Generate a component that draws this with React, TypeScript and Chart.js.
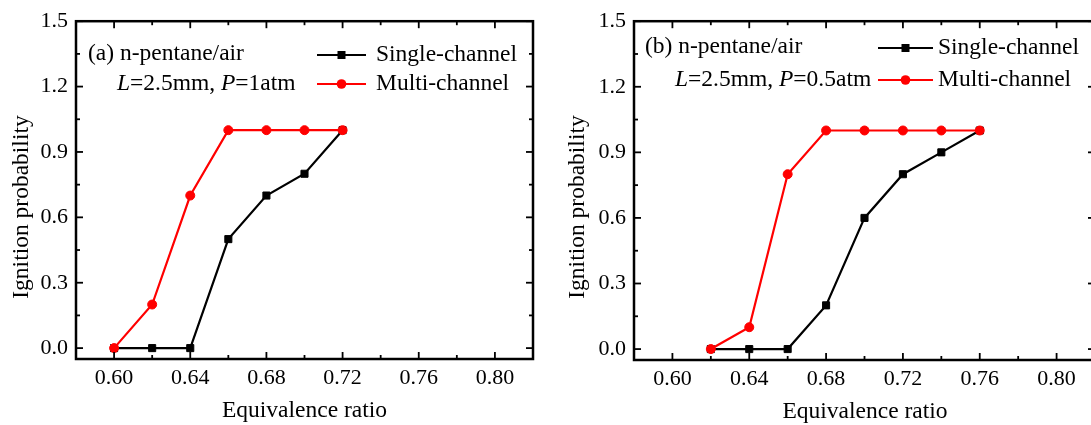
import React, { useEffect, useRef } from 'react';
import { Chart, registerables } from 'chart.js';

Chart.register(...registerables);

const FONT = "'Liberation Serif', 'Times New Roman', serif";

// ---- data ----
const seriesNames = ['Single-channel', 'Multi-channel'];

const ratioA = [0.6, 0.62, 0.64, 0.66, 0.68, 0.7, 0.72];
const singleA = [0, 0, 0, 0.5, 0.7, 0.8, 1.0];
const multiA = [0, 0.2, 0.7, 1.0, 1.0, 1.0, 1.0];

const ratioB = [0.62, 0.64, 0.66, 0.68, 0.7, 0.72, 0.74, 0.76];
const singleB = [0, 0, 0, 0.2, 0.6, 0.8, 0.9, 1.0];
const multiB = [0, 0.1, 0.8, 1.0, 1.0, 1.0, 1.0, 1.0];

const xTickValues = [0.6, 0.64, 0.68, 0.72, 0.76, 0.8];
const yTickValues = [0, 0.3, 0.6, 0.9, 1.2, 1.5];

const xTitle = 'Equivalence ratio';
const yTitle = 'Ignition probability';

const panelLabelA = '(a) n-pentane/air';
const conditionsA = [
  { t: 'L', italic: true },
  { t: '=2.5mm, ', italic: false },
  { t: 'P', italic: true },
  { t: '=1atm', italic: false },
];
const panelLabelB = '(b) n-pentane/air';
const conditionsB = [
  { t: 'L', italic: true },
  { t: '=2.5mm, ', italic: false },
  { t: 'P', italic: true },
  { t: '=0.5atm', italic: false },
];

const BLACK = '#000000';
const RED = '#ff0000';

type Part = { t: string; italic: boolean };

type Panel = {
  xs: number[];
  single: number[];
  multi: number[];
  width: number;
  height: number;
  area: { left: number; right: number; top: number; bottom: number };
  label: string;
  labelPos: [number, number];
  cond: Part[];
  condPos: [number, number];
  legend: { x1: number; x2: number; textX: number; rows: number[] };
  xTitlePos: [number, number];
  yTitlePos: [number, number];
};

function drawParts(ctx: CanvasRenderingContext2D, parts: Part[], x: number, y: number, size: number) {
  let cx = x;
  for (const p of parts) {
    ctx.font = `${p.italic ? 'italic ' : ''}${size}px ${FONT}`;
    ctx.fillText(p.t, cx, y);
    cx += ctx.measureText(p.t).width;
  }
}

function makeChart(canvas: HTMLCanvasElement, p: Panel) {
  const TEXT = 23.5;
  const decor = {
    id: 'decor',
    afterDraw(chart: any) {
      const ctx: CanvasRenderingContext2D = chart.ctx;
      const { left, right, top, bottom } = chart.chartArea;
      const xs = chart.scales.x;
      const ys = chart.scales.y;
      ctx.save();
      ctx.strokeStyle = BLACK;
      ctx.lineWidth = 2.5;
      ctx.strokeRect(left, top, right - left, bottom - top);
      ctx.lineWidth = 1.8;
      const tick = (x1: number, y1: number, x2: number, y2: number) => {
        ctx.beginPath();
        ctx.moveTo(x1, y1);
        ctx.lineTo(x2, y2);
        ctx.stroke();
      };
      const MAJ = 7;
      const MIN = 4;
      xTickValues.forEach((v, i) => {
        const px = xs.getPixelForValue(v);
        tick(px, bottom, px, bottom - MAJ);
        tick(px, top, px, top + MAJ);
        const mv = i < xTickValues.length - 1 ? (v + xTickValues[i + 1]) / 2 : v + (v - xTickValues[i - 1]) / 2;
        if (mv < xs.max - 1e-9) {
          const mp = xs.getPixelForValue(mv);
          tick(mp, bottom, mp, bottom - MIN);
          tick(mp, top, mp, top + MIN);
        }
      });
      yTickValues.forEach((v, i) => {
        const py = ys.getPixelForValue(v);
        tick(left, py, left + MAJ, py);
        tick(right, py, right - MAJ, py);
        if (i < yTickValues.length - 1) {
          const mp = ys.getPixelForValue((v + yTickValues[i + 1]) / 2);
          tick(left, mp, left + MIN, mp);
          tick(right, mp, right - MIN, mp);
        }
      });

      // annotations
      ctx.fillStyle = BLACK;
      ctx.textBaseline = 'middle';
      ctx.textAlign = 'left';
      ctx.font = `${TEXT}px ${FONT}`;
      ctx.fillText(p.label, p.labelPos[0], p.labelPos[1]);
      drawParts(ctx, p.cond, p.condPos[0], p.condPos[1], TEXT);

      // legend
      const colors = [BLACK, RED];
      seriesNames.forEach((name, i) => {
        const y = p.legend.rows[i];
        ctx.strokeStyle = colors[i];
        ctx.fillStyle = colors[i];
        ctx.lineWidth = 2.2;
        tick(p.legend.x1, y, p.legend.x2, y);
        const mx = (p.legend.x1 + p.legend.x2) / 2;
        if (i === 0) {
          ctx.fillRect(mx - 4, y - 4, 8, 8);
        } else {
          ctx.beginPath();
          ctx.arc(mx, y, 4.8, 0, Math.PI * 2);
          ctx.fill();
        }
        ctx.fillStyle = BLACK;
        ctx.font = `${TEXT}px ${FONT}`;
        ctx.fillText(name, p.legend.textX, y);
      });

      // axis titles
      ctx.fillStyle = BLACK;
      ctx.textAlign = 'center';
      ctx.font = `${TEXT}px ${FONT}`;
      ctx.fillText(xTitle, p.xTitlePos[0], p.xTitlePos[1]);
      ctx.save();
      ctx.translate(p.yTitlePos[0], p.yTitlePos[1]);
      ctx.rotate(-Math.PI / 2);
      ctx.fillText(yTitle, 0, 0);
      ctx.restore();
      ctx.restore();
    },
  };

  return new Chart(canvas, {
    type: 'line',
    data: {
      datasets: [
        {
          label: seriesNames[0],
          data: p.xs.map((x, i) => ({ x, y: p.single[i] })),
          borderColor: BLACK,
          backgroundColor: BLACK,
          borderWidth: 2.2,
          pointStyle: 'rect',
          pointRadius: 5,
          pointBorderWidth: 1,
          tension: 0,
          order: 1,
        },
        {
          label: seriesNames[1],
          data: p.xs.map((x, i) => ({ x, y: p.multi[i] })),
          borderColor: RED,
          backgroundColor: RED,
          borderWidth: 2.2,
          pointStyle: 'circle',
          pointRadius: 4.5,
          pointBorderWidth: 1,
          tension: 0,
          order: 0,
        },
      ],
    },
    options: {
      animation: false,
      responsive: false,
      devicePixelRatio: 1,
      layout: {
        padding: { left: 0, top: p.area.top, right: p.width - p.area.right, bottom: 0 },
      },
      plugins: { legend: { display: false }, tooltip: { enabled: false } },
      scales: {
        x: {
          type: 'linear',
          min: 0.58,
          max: 0.82,
          grid: { display: false, drawTicks: false },
          border: { display: false },
          afterBuildTicks: (s: any) => {
            s.ticks = xTickValues.map((v) => ({ value: v }));
          },
          afterFit: (s: any) => {
            s.height = p.height - p.area.bottom;
          },
          ticks: {
            padding: 6,
            color: BLACK,
            font: { family: FONT, size: 22 },
            callback: (v: any) => Number(v).toFixed(2),
            maxRotation: 0,
            autoSkip: false,
          },
        },
        y: {
          type: 'linear',
          min: -0.05,
          max: 1.5,
          grid: { display: false, drawTicks: false },
          border: { display: false },
          afterBuildTicks: (s: any) => {
            s.ticks = yTickValues.map((v) => ({ value: v }));
          },
          afterFit: (s: any) => {
            s.width = p.area.left;
          },
          ticks: {
            padding: 8,
            color: BLACK,
            font: { family: FONT, size: 22 },
            callback: (v: any) => Number(v).toFixed(1),
            autoSkip: false,
          },
        },
      },
    } as any,
    plugins: [decor],
  });
}

const panelA: Panel = {
  xs: ratioA,
  single: singleA,
  multi: multiA,
  width: 545,
  height: 425,
  area: { left: 76, right: 533, top: 20, bottom: 359 },
  label: panelLabelA,
  labelPos: [88, 54],
  cond: conditionsA,
  condPos: [117, 84],
  legend: { x1: 317, x2: 366, textX: 376, rows: [55, 84] },
  xTitlePos: [304.5, 411],
  yTitlePos: [22, 207],
};

const panelB: Panel = {
  xs: ratioB,
  single: singleB,
  multi: multiB,
  width: 560,
  height: 425,
  area: { left: 89, right: 550, top: 17, bottom: 360 },
  label: panelLabelB,
  labelPos: [100, 47],
  cond: conditionsB,
  condPos: [130, 80],
  legend: { x1: 333, x2: 388, textX: 393, rows: [48, 80] },
  xTitlePos: [320, 412],
  yTitlePos: [32.5, 207],
};

export default function App() {
  const refA = useRef<HTMLCanvasElement>(null);
  const refB = useRef<HTMLCanvasElement>(null);
  useEffect(() => {
    const a = makeChart(refA.current!, panelA);
    const b = makeChart(refB.current!, panelB);
    return () => {
      a.destroy();
      b.destroy();
    };
  }, []);
  return (
    <div
      style={{
        position: 'fixed',
        left: 0,
        top: 0,
        width: 1091,
        height: 425,
        overflow: 'hidden',
        background: '#ffffff',
      }}
    >
      <canvas ref={refA} width={545} height={425} style={{ position: 'absolute', left: 0, top: 0 }} />
      <canvas ref={refB} width={560} height={425} style={{ position: 'absolute', left: 545, top: 0 }} />
    </div>
  );
}
